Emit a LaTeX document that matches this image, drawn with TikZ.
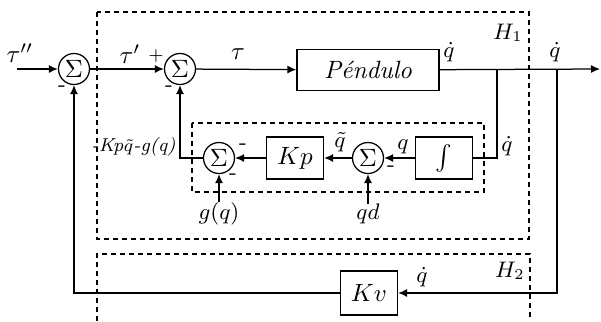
\documentclass[tikz,border=0pt]{standalone}
\usepackage{tikz}
\usetikzlibrary{arrows.meta}
\tikzset{
  sumnode/.style={draw, circle, minimum size=12.4pt, inner sep=0pt, line width=0.5pt},
  blockbox/.style={draw, rectangle, minimum width=22.8pt, minimum height=16.8pt, inner sep=0pt, line width=0.5pt},
  signal/.style={line width=0.5pt, -{Latex[length=3.6pt,width=3.2pt]}},
  wire/.style={line width=0.5pt},
  groupbox/.style={line width=0.45pt, dash pattern=on 2pt off 1.6pt},
  lbl/.style={inner sep=0pt, font=\small}
}
\begin{document}
\begin{tikzpicture}[x=0.4pt, y=-0.4pt]
  \useasboundingbox (0,0) rectangle (601,321);

  % grouping boxes
  \draw[groupbox] (97,12) rectangle (529,239);
  \draw[groupbox] (192,123) rectangle (484,192);
  \draw[groupbox] (97,321) -- (97,254) -- (530,254) -- (530,321);
  \node[lbl] (hone) at (508,33) {$H_1$};
  \node[lbl] (htwo) at (510,271) {$H_2$};

  % blocks
  \node[sumnode] (sumA) at (74,69) {$\Sigma$};
  \node[sumnode] (sumB) at (180,69) {$\Sigma$};
  \node[sumnode] (sumC) at (368,158) {$\Sigma$};
  \node[sumnode] (sumD) at (219,158) {$\Sigma$};
  \node[blockbox, minimum width=56.8pt, minimum height=16.4pt] (pend) at (368,70) {\textit{Péndulo}};
  \node[blockbox, font=\large] (intg) at (444,158) {$\int$};
  \node[blockbox] (kp) at (295,158) {$Kp$};
  \node[blockbox, minimum height=17.6pt] (kv) at (369,293) {$Kv$};

  % inputs
  \coordinate (in) at (17,69);
  \coordinate (out) at (600,69);
  \coordinate (brin) at (497,69);
  \coordinate (brout) at (557,69);
  \node[lbl] (qd) at (368,214) {$qd$};
  \node[lbl] (gq) at (219,214) {$g(q)$};

  % connectors
  \draw[signal] (in) -- (sumA);
  \draw[signal] (sumA) -- (sumB);
  \draw[signal] (sumB) -- (pend);
  \draw[signal] (pend) -- (out);
  \draw[wire] (brin) |- (intg.east);
  \draw[signal] (intg) -- (sumC);
  \draw[signal] (sumC) -- (kp);
  \draw[signal] (kp) -- (sumD);
  \draw[signal] (qd.north) -- (sumC.south);
  \draw[signal] (gq.north) -- (sumD.south);
  \draw[signal] (sumD.west) -| (sumB.south);
  \draw[signal] (brout) |- (kv.east);
  \draw[signal] (kv.west) -| (sumA.south);

  % signal labels
  \node[lbl, font=\normalsize] (ttwo) at (20,53) {$\tau''$};
  \node[lbl, font=\normalsize] (tone) at (130,54) {$\tau'$};
  \node[lbl, font=\normalsize] (tzero) at (238,54) {$\tau$};
  \node[lbl] (qdA) at (449,52) {$\dot q$};
  \node[lbl] (qdB) at (555,52) {$\dot q$};
  \node[lbl] (qdC) at (507,146) {$\dot q$};
  \node[lbl] (qdD) at (422,277) {$\dot q$};
  \node[lbl] (qq) at (403,147) {$q$};
  \node[lbl] (qt) at (340,142) {$\tilde q$};
  \node[lbl, anchor=east, font=\fontsize{7.5}{9}\selectfont] (fb) at (176,147) {\textit{-Kp$\tilde q$-g(q)}};

  % signs
  \node[lbl] (sA) at (62,89) {-};
  \node[lbl] (sBp) at (156,56) {\scriptsize $+$};
  \node[lbl] (sB) at (169,89) {-};
  \node[lbl] (sC) at (391,169) {-};
  \node[lbl] (sDa) at (243,147) {-};
  \node[lbl] (sDb) at (233,177) {-};
\end{tikzpicture}
\end{document}
